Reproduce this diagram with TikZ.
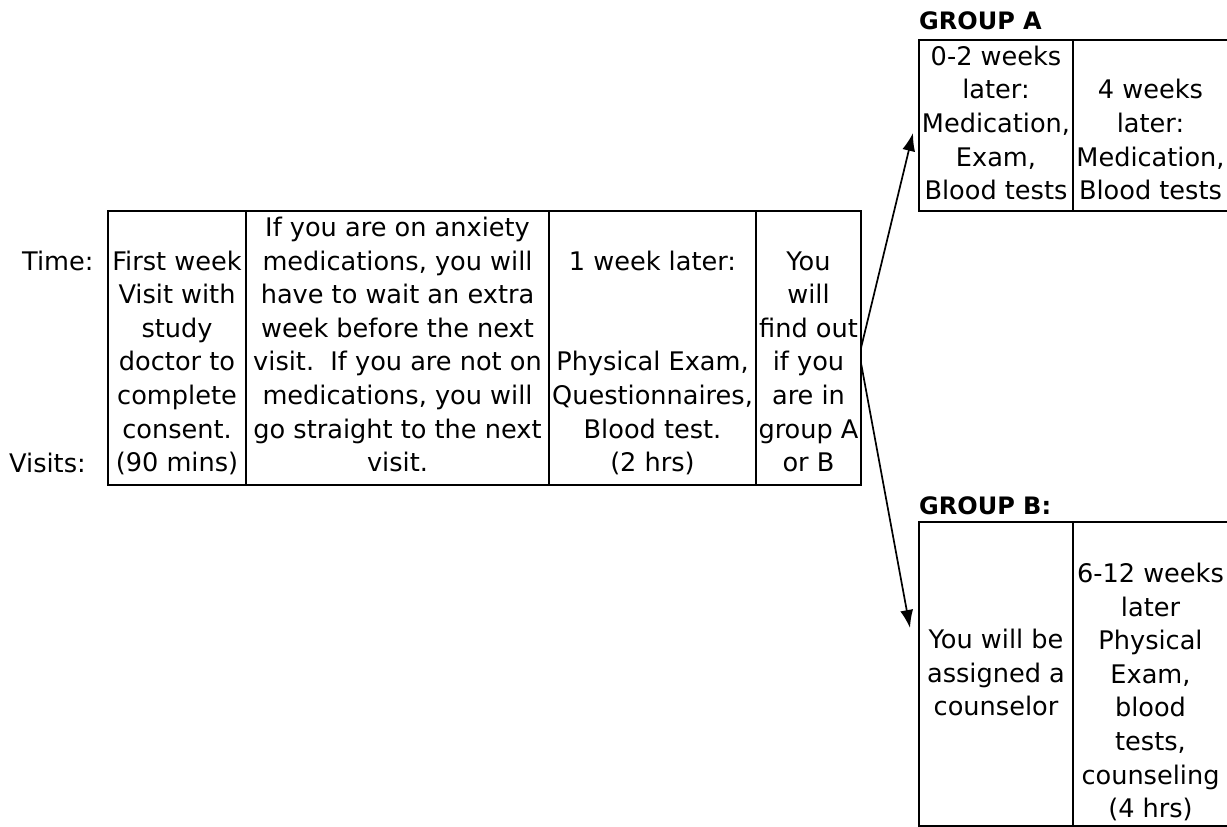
\documentclass[tikz,border=0pt]{standalone}
\usepackage{fontspec}
\setmainfont{DejaVu Sans}
\usetikzlibrary{arrows.meta}
\begin{document}
\begin{tikzpicture}[x=1pt,y=-1pt,
  cell/.style={draw=black, line width=2.4pt, inner sep=0pt, outer sep=0pt},
  txt/.style={font=\fontsize{25.6}{33.6}\selectfont, align=center, inner sep=0pt, anchor=south},
  lbl/.style={font=\fontsize{25.6}{33.6}\selectfont, inner sep=0pt, anchor=base west},
  head/.style={font=\fontsize{24}{30}\selectfont\bfseries, inner sep=0pt, anchor=base west},
  conn/.style={line width=1.7pt, -{Latex[length=18pt,width=13pt]}}]
\fill[white] (0,0) rectangle (1227,827);
\useasboundingbox (0,0) rectangle (1227,827);
\begin{scope}
\clip (0,0) rectangle (1227,827);
% main table
\node[cell, minimum width=138pt, minimum height=274pt] (c1) at (177,348) {};
\node[cell, minimum width=303pt, minimum height=274pt] (c2) at (397.5,348) {};
\node[cell, minimum width=207pt, minimum height=274pt] (c3) at (652.5,348) {};
\node[cell, minimum width=105pt, minimum height=274pt] (c4) at (808.5,348) {};
% group A
\node[cell, minimum width=154pt, minimum height=171pt] (a1) at (996,125.5) {};
\node[cell, minimum width=155pt, minimum height=171pt] (a2) at (1150.5,125.5) {};
% group B
\node[cell, minimum width=154pt, minimum height=304pt] (b1) at (996,674) {};
\node[cell, minimum width=155pt, minimum height=304pt] (b2) at (1150.5,674) {};
\end{scope}

\node[lbl] (time) at (22,270) {Time:};
\node[lbl] (visits) at (9,472) {Visits:};

\node[txt] (t1) at (177,482) {First week\\Visit with\\study\\doctor to\\complete\\consent.\\(90 mins)\strut};
\node[txt] (t2) at (397.5,482) {If you are on anxiety\\medications, you will\\have to wait an extra\\week before the next\\visit.\ \ If you are not on\\medications, you will\\go straight to the next\\visit.\strut};
\node[txt] (t3) at (652.5,482) {1 week later:\\\strut\\\strut\\Physical Exam,\\Questionnaires,\\Blood test.\\(2 hrs)\strut};
\node[txt] (t4) at (808.5,482) {You\\will\\find out\\if you\\are in\\group A\\or B\strut};

\node[head] (ga) at (919,30) {GROUP A};
\node[txt] (ta1) at (996,210) {0-2 weeks\\later:\\Medication,\\Exam,\\Blood tests\strut};
\node[txt] (ta2) at (1150.5,210) {4 weeks\\later:\\Medication,\\Blood tests\strut};

\node[head] (gb) at (919,514) {GROUP B:};
\node[txt] (tb1) at (996,726) {You will be\\assigned a\\counselor\strut};
\node[txt] (tb2) at (1150.5,828) {6-12 weeks\\later\\Physical\\Exam,\\blood\\tests,\\counseling\\(4 hrs)\strut};

\coordinate (aS) at (c4.east);
\coordinate (bS) at ([yshift=-15pt]c4.east);
\coordinate (aT) at (913,133);
\coordinate (bT) at (910,628);
\draw[conn] (aS) -- (aT);
\draw[conn] (bS) -- (bT);
\end{tikzpicture}
\end{document}
